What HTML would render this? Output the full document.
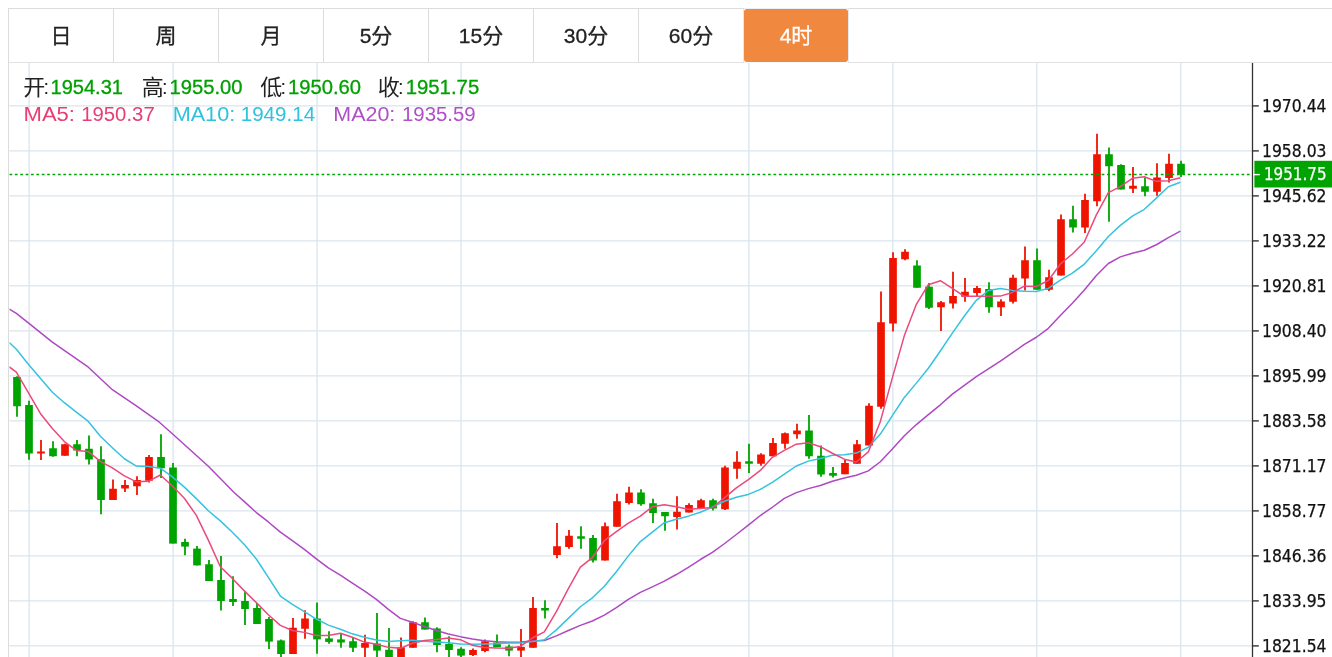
<!DOCTYPE html>
<html lang="zh-CN"><head><meta charset="utf-8"><title>K线图</title>
<style>
html,body{margin:0;padding:0;background:#fff;}
body{width:1332px;height:657px;position:relative;overflow:hidden;font-family:"Liberation Sans","Noto Sans CJK SC",sans-serif;}
#wrap{position:absolute;left:9px;top:9px;width:1400px;height:700px;box-sizing:border-box;}
#tabs{position:absolute;left:0;top:0;width:1400px;height:54px;}
.tab{position:absolute;top:0px;width:104px;height:53px;line-height:54px;text-align:center;font-size:21px;color:#222;}
.tab.on{color:#fff;}
.tab{-webkit-text-stroke:0.3px currentColor;}
</style></head><body>
<svg width="1332" height="657" viewBox="0 0 1332 657" style="position:absolute;left:0;top:0">
<line x1="9.5" y1="105.90" x2="1252" y2="105.90" stroke="#d9e5ee" stroke-width="1.3"/>
<line x1="9.5" y1="150.90" x2="1252" y2="150.90" stroke="#d9e5ee" stroke-width="1.3"/>
<line x1="9.5" y1="195.90" x2="1252" y2="195.90" stroke="#d9e5ee" stroke-width="1.3"/>
<line x1="9.5" y1="240.90" x2="1252" y2="240.90" stroke="#d9e5ee" stroke-width="1.3"/>
<line x1="9.5" y1="285.90" x2="1252" y2="285.90" stroke="#d9e5ee" stroke-width="1.3"/>
<line x1="9.5" y1="330.90" x2="1252" y2="330.90" stroke="#d9e5ee" stroke-width="1.3"/>
<line x1="9.5" y1="375.90" x2="1252" y2="375.90" stroke="#d9e5ee" stroke-width="1.3"/>
<line x1="9.5" y1="420.90" x2="1252" y2="420.90" stroke="#d9e5ee" stroke-width="1.3"/>
<line x1="9.5" y1="465.90" x2="1252" y2="465.90" stroke="#d9e5ee" stroke-width="1.3"/>
<line x1="9.5" y1="510.90" x2="1252" y2="510.90" stroke="#d9e5ee" stroke-width="1.3"/>
<line x1="9.5" y1="555.90" x2="1252" y2="555.90" stroke="#d9e5ee" stroke-width="1.3"/>
<line x1="9.5" y1="600.90" x2="1252" y2="600.90" stroke="#d9e5ee" stroke-width="1.3"/>
<line x1="9.5" y1="645.90" x2="1252" y2="645.90" stroke="#d9e5ee" stroke-width="1.3"/>
<line x1="29.20" y1="62.5" x2="29.20" y2="657" stroke="#d9e5ee" stroke-width="1.3"/>
<line x1="173.14" y1="62.5" x2="173.14" y2="657" stroke="#d9e5ee" stroke-width="1.3"/>
<line x1="317.08" y1="62.5" x2="317.08" y2="657" stroke="#d9e5ee" stroke-width="1.3"/>
<line x1="461.02" y1="62.5" x2="461.02" y2="657" stroke="#d9e5ee" stroke-width="1.3"/>
<line x1="748.90" y1="62.5" x2="748.90" y2="657" stroke="#d9e5ee" stroke-width="1.3"/>
<line x1="892.84" y1="62.5" x2="892.84" y2="657" stroke="#d9e5ee" stroke-width="1.3"/>
<line x1="1036.78" y1="62.5" x2="1036.78" y2="657" stroke="#d9e5ee" stroke-width="1.3"/>
<line x1="1180.72" y1="62.5" x2="1180.72" y2="657" stroke="#d9e5ee" stroke-width="1.3"/>
<line x1="8" y1="8.5" x2="1332" y2="8.5" stroke="#dcdcdc" stroke-width="1"/>
<line x1="8" y1="62.5" x2="1332" y2="62.5" stroke="#e2e2e2" stroke-width="1"/>
<line x1="8.5" y1="8" x2="8.5" y2="657" stroke="#dcdcdc" stroke-width="1"/>
<line x1="113.5" y1="9" x2="113.5" y2="62" stroke="#dcdcdc" stroke-width="1"/>
<line x1="218.5" y1="9" x2="218.5" y2="62" stroke="#dcdcdc" stroke-width="1"/>
<line x1="323.5" y1="9" x2="323.5" y2="62" stroke="#dcdcdc" stroke-width="1"/>
<line x1="428.5" y1="9" x2="428.5" y2="62" stroke="#dcdcdc" stroke-width="1"/>
<line x1="533.5" y1="9" x2="533.5" y2="62" stroke="#dcdcdc" stroke-width="1"/>
<line x1="638.5" y1="9" x2="638.5" y2="62" stroke="#dcdcdc" stroke-width="1"/>
<line x1="743.5" y1="9" x2="743.5" y2="62" stroke="#e3e8ee" stroke-width="1"/>
<line x1="848.5" y1="9" x2="848.5" y2="62" stroke="#e3e8ee" stroke-width="1"/>
<line x1="744" y1="62.5" x2="848" y2="62.5" stroke="#f4f8fb" stroke-width="1"/>
<line x1="744" y1="8.5" x2="849" y2="8.5" stroke="#eaeff3" stroke-width="1"/>
<rect x="744" y="9" width="104" height="53" rx="3" ry="3" fill="#f0883f"/>
<line x1="17.0" y1="376.25" x2="17.0" y2="416.75" stroke="#00a400" stroke-width="1.8"/>
<rect x="13.15" y="377.0" width="7.7" height="29.25" fill="#00a400"/>
<line x1="29.0" y1="400.75" x2="29.0" y2="459.75" stroke="#00a400" stroke-width="1.8"/>
<rect x="25.15" y="405.0" width="7.7" height="48.50" fill="#00a400"/>
<line x1="41.0" y1="440.0" x2="41.0" y2="460.0" stroke="#ee1400" stroke-width="1.8"/>
<rect x="37.15" y="451.5" width="7.7" height="2.00" fill="#ee1400"/>
<line x1="53.0" y1="441.25" x2="53.0" y2="456.75" stroke="#00a400" stroke-width="1.8"/>
<rect x="49.15" y="448.25" width="7.7" height="8.00" fill="#00a400"/>
<line x1="65.0" y1="443.75" x2="65.0" y2="455.75" stroke="#ee1400" stroke-width="1.8"/>
<rect x="61.15" y="444.25" width="7.7" height="11.50" fill="#ee1400"/>
<line x1="77.0" y1="440.0" x2="77.0" y2="456.25" stroke="#00a400" stroke-width="1.8"/>
<rect x="73.15" y="444.25" width="7.7" height="6.25" fill="#00a400"/>
<line x1="89.0" y1="435.5" x2="89.0" y2="464.5" stroke="#00a400" stroke-width="1.8"/>
<rect x="85.15" y="448.75" width="7.7" height="10.75" fill="#00a400"/>
<line x1="101.0" y1="446.25" x2="101.0" y2="514.25" stroke="#00a400" stroke-width="1.8"/>
<rect x="97.15" y="459.25" width="7.7" height="40.75" fill="#00a400"/>
<line x1="113.0" y1="479.5" x2="113.0" y2="500.0" stroke="#ee1400" stroke-width="1.8"/>
<rect x="109.15" y="488.75" width="7.7" height="11.25" fill="#ee1400"/>
<line x1="125.0" y1="480.0" x2="125.0" y2="492.0" stroke="#ee1400" stroke-width="1.8"/>
<rect x="121.15" y="485.0" width="7.7" height="3.50" fill="#ee1400"/>
<line x1="137.0" y1="476.25" x2="137.0" y2="495.0" stroke="#ee1400" stroke-width="1.8"/>
<rect x="133.15" y="480.0" width="7.7" height="6.25" fill="#ee1400"/>
<line x1="149.0" y1="455.0" x2="149.0" y2="482.5" stroke="#ee1400" stroke-width="1.8"/>
<rect x="145.15" y="457.0" width="7.7" height="23.75" fill="#ee1400"/>
<line x1="161.0" y1="434.25" x2="161.0" y2="478.0" stroke="#00a400" stroke-width="1.8"/>
<rect x="157.15" y="457.0" width="7.7" height="11.25" fill="#00a400"/>
<line x1="173.0" y1="463.0" x2="173.0" y2="543.6" stroke="#00a400" stroke-width="1.8"/>
<rect x="169.15" y="467.5" width="7.7" height="76.10" fill="#00a400"/>
<line x1="185.0" y1="538.75" x2="185.0" y2="555.25" stroke="#00a400" stroke-width="1.8"/>
<rect x="181.15" y="542.0" width="7.7" height="4.60" fill="#00a400"/>
<line x1="197.0" y1="546.0" x2="197.0" y2="565.4" stroke="#00a400" stroke-width="1.8"/>
<rect x="193.15" y="548.6" width="7.7" height="16.80" fill="#00a400"/>
<line x1="209.0" y1="560.0" x2="209.0" y2="581.0" stroke="#00a400" stroke-width="1.8"/>
<rect x="205.15" y="564.25" width="7.7" height="16.75" fill="#00a400"/>
<line x1="221.0" y1="556.0" x2="221.0" y2="610.5" stroke="#00a400" stroke-width="1.8"/>
<rect x="217.15" y="580.0" width="7.7" height="21.00" fill="#00a400"/>
<line x1="233.0" y1="576.25" x2="233.0" y2="606.0" stroke="#00a400" stroke-width="1.8"/>
<rect x="229.15" y="599.0" width="7.7" height="3.00" fill="#00a400"/>
<line x1="245.0" y1="591.0" x2="245.0" y2="625.0" stroke="#00a400" stroke-width="1.8"/>
<rect x="241.15" y="601.0" width="7.7" height="8.00" fill="#00a400"/>
<line x1="257.0" y1="603.0" x2="257.0" y2="624.0" stroke="#00a400" stroke-width="1.8"/>
<rect x="253.15" y="608.0" width="7.7" height="16.00" fill="#00a400"/>
<line x1="269.0" y1="617.0" x2="269.0" y2="649.0" stroke="#00a400" stroke-width="1.8"/>
<rect x="265.15" y="619.0" width="7.7" height="22.60" fill="#00a400"/>
<line x1="281.0" y1="639.4" x2="281.0" y2="660.0" stroke="#00a400" stroke-width="1.8"/>
<rect x="277.15" y="640.4" width="7.7" height="13.60" fill="#00a400"/>
<line x1="293.0" y1="618.0" x2="293.0" y2="654.0" stroke="#ee1400" stroke-width="1.8"/>
<rect x="289.15" y="627.75" width="7.7" height="26.25" fill="#ee1400"/>
<line x1="305.0" y1="610.25" x2="305.0" y2="638.75" stroke="#ee1400" stroke-width="1.8"/>
<rect x="301.15" y="618.5" width="7.7" height="10.25" fill="#ee1400"/>
<line x1="317.0" y1="602.5" x2="317.0" y2="653.75" stroke="#00a400" stroke-width="1.8"/>
<rect x="313.15" y="618.5" width="7.7" height="20.90" fill="#00a400"/>
<line x1="329.0" y1="631.25" x2="329.0" y2="643.75" stroke="#00a400" stroke-width="1.8"/>
<rect x="325.15" y="638.4" width="7.7" height="3.50" fill="#00a400"/>
<line x1="341.0" y1="633.75" x2="341.0" y2="647.75" stroke="#00a400" stroke-width="1.8"/>
<rect x="337.15" y="639.4" width="7.7" height="3.10" fill="#00a400"/>
<line x1="353.0" y1="638.0" x2="353.0" y2="651.9" stroke="#00a400" stroke-width="1.8"/>
<rect x="349.15" y="641.25" width="7.7" height="6.50" fill="#00a400"/>
<line x1="365.0" y1="634.75" x2="365.0" y2="660.0" stroke="#ee1400" stroke-width="1.8"/>
<rect x="361.15" y="643.0" width="7.7" height="4.75" fill="#ee1400"/>
<line x1="377.0" y1="613.0" x2="377.0" y2="660.0" stroke="#00a400" stroke-width="1.8"/>
<rect x="373.15" y="643.5" width="7.7" height="7.10" fill="#00a400"/>
<line x1="389.0" y1="628.0" x2="389.0" y2="660.0" stroke="#00a400" stroke-width="1.8"/>
<rect x="385.15" y="649.75" width="7.7" height="10.25" fill="#00a400"/>
<line x1="401.0" y1="637.5" x2="401.0" y2="660.0" stroke="#ee1400" stroke-width="1.8"/>
<rect x="397.15" y="647.25" width="7.7" height="12.75" fill="#ee1400"/>
<line x1="413.0" y1="621.25" x2="413.0" y2="647.75" stroke="#ee1400" stroke-width="1.8"/>
<rect x="409.15" y="622.25" width="7.7" height="25.50" fill="#ee1400"/>
<line x1="425.0" y1="617.5" x2="425.0" y2="629.6" stroke="#00a400" stroke-width="1.8"/>
<rect x="421.15" y="622.25" width="7.7" height="7.35" fill="#00a400"/>
<line x1="437.0" y1="627.25" x2="437.0" y2="652.25" stroke="#00a400" stroke-width="1.8"/>
<rect x="433.15" y="628.5" width="7.7" height="16.50" fill="#00a400"/>
<line x1="449.0" y1="636.25" x2="449.0" y2="660.0" stroke="#00a400" stroke-width="1.8"/>
<rect x="445.15" y="644.0" width="7.7" height="6.00" fill="#00a400"/>
<line x1="461.0" y1="647.25" x2="461.0" y2="658.0" stroke="#00a400" stroke-width="1.8"/>
<rect x="457.15" y="648.75" width="7.7" height="6.85" fill="#00a400"/>
<line x1="473.0" y1="648.5" x2="473.0" y2="656.0" stroke="#ee1400" stroke-width="1.8"/>
<rect x="469.15" y="650.0" width="7.7" height="5.00" fill="#ee1400"/>
<line x1="485.0" y1="639.4" x2="485.0" y2="652.25" stroke="#ee1400" stroke-width="1.8"/>
<rect x="481.15" y="641.25" width="7.7" height="9.75" fill="#ee1400"/>
<line x1="497.0" y1="634.4" x2="497.0" y2="647.25" stroke="#00a400" stroke-width="1.8"/>
<rect x="493.15" y="642.5" width="7.7" height="4.75" fill="#00a400"/>
<line x1="509.0" y1="644.4" x2="509.0" y2="656.25" stroke="#00a400" stroke-width="1.8"/>
<rect x="505.15" y="646.5" width="7.7" height="4.10" fill="#00a400"/>
<line x1="521.0" y1="629.0" x2="521.0" y2="660.0" stroke="#ee1400" stroke-width="1.8"/>
<rect x="517.15" y="646.9" width="7.7" height="3.70" fill="#ee1400"/>
<line x1="533.0" y1="597.0" x2="533.0" y2="647.75" stroke="#ee1400" stroke-width="1.8"/>
<rect x="529.15" y="608.0" width="7.7" height="39.75" fill="#ee1400"/>
<line x1="545.0" y1="600.25" x2="545.0" y2="618.5" stroke="#00a400" stroke-width="1.8"/>
<rect x="541.15" y="608.0" width="7.7" height="2.50" fill="#00a400"/>
<line x1="557.0" y1="523.0" x2="557.0" y2="558.25" stroke="#ee1400" stroke-width="1.8"/>
<rect x="553.15" y="546.25" width="7.7" height="8.75" fill="#ee1400"/>
<line x1="569.0" y1="530.0" x2="569.0" y2="548.75" stroke="#ee1400" stroke-width="1.8"/>
<rect x="565.15" y="535.75" width="7.7" height="11.25" fill="#ee1400"/>
<line x1="581.0" y1="526.25" x2="581.0" y2="548.75" stroke="#00a400" stroke-width="1.8"/>
<rect x="577.15" y="536.25" width="7.7" height="2.50" fill="#00a400"/>
<line x1="593.0" y1="535.0" x2="593.0" y2="562.5" stroke="#00a400" stroke-width="1.8"/>
<rect x="589.15" y="538.0" width="7.7" height="22.50" fill="#00a400"/>
<line x1="605.0" y1="522.5" x2="605.0" y2="560.5" stroke="#ee1400" stroke-width="1.8"/>
<rect x="601.15" y="526.25" width="7.7" height="34.25" fill="#ee1400"/>
<line x1="617.0" y1="493.75" x2="617.0" y2="526.75" stroke="#ee1400" stroke-width="1.8"/>
<rect x="613.15" y="501.25" width="7.7" height="25.50" fill="#ee1400"/>
<line x1="629.0" y1="486.75" x2="629.0" y2="504.5" stroke="#ee1400" stroke-width="1.8"/>
<rect x="625.15" y="492.5" width="7.7" height="10.50" fill="#ee1400"/>
<line x1="641.0" y1="489.25" x2="641.0" y2="505.75" stroke="#00a400" stroke-width="1.8"/>
<rect x="637.15" y="492.5" width="7.7" height="11.75" fill="#00a400"/>
<line x1="653.0" y1="498.75" x2="653.0" y2="523.0" stroke="#00a400" stroke-width="1.8"/>
<rect x="649.15" y="503.25" width="7.7" height="9.75" fill="#00a400"/>
<line x1="665.0" y1="512.0" x2="665.0" y2="530.75" stroke="#00a400" stroke-width="1.8"/>
<rect x="661.15" y="512.0" width="7.7" height="4.25" fill="#00a400"/>
<line x1="677.0" y1="496.25" x2="677.0" y2="529.5" stroke="#ee1400" stroke-width="1.8"/>
<rect x="673.15" y="511.75" width="7.7" height="5.25" fill="#ee1400"/>
<line x1="689.0" y1="503.25" x2="689.0" y2="512.5" stroke="#ee1400" stroke-width="1.8"/>
<rect x="685.15" y="505.0" width="7.7" height="7.50" fill="#ee1400"/>
<line x1="701.0" y1="498.75" x2="701.0" y2="508.25" stroke="#ee1400" stroke-width="1.8"/>
<rect x="697.15" y="500.25" width="7.7" height="8.00" fill="#ee1400"/>
<line x1="713.0" y1="498.75" x2="713.0" y2="510.6" stroke="#00a400" stroke-width="1.8"/>
<rect x="709.15" y="500.25" width="7.7" height="8.25" fill="#00a400"/>
<line x1="725.0" y1="465.75" x2="725.0" y2="510.0" stroke="#ee1400" stroke-width="1.8"/>
<rect x="721.15" y="467.5" width="7.7" height="41.75" fill="#ee1400"/>
<line x1="737.0" y1="451.25" x2="737.0" y2="478.75" stroke="#ee1400" stroke-width="1.8"/>
<rect x="733.15" y="461.75" width="7.7" height="7.00" fill="#ee1400"/>
<line x1="749.0" y1="443.75" x2="749.0" y2="473.0" stroke="#00a400" stroke-width="1.8"/>
<rect x="745.15" y="461.25" width="7.7" height="2.50" fill="#00a400"/>
<line x1="761.0" y1="453.25" x2="761.0" y2="465.75" stroke="#ee1400" stroke-width="1.8"/>
<rect x="757.15" y="454.5" width="7.7" height="9.25" fill="#ee1400"/>
<line x1="773.0" y1="438.0" x2="773.0" y2="456.25" stroke="#ee1400" stroke-width="1.8"/>
<rect x="769.15" y="443.0" width="7.7" height="13.25" fill="#ee1400"/>
<line x1="785.0" y1="432.5" x2="785.0" y2="448.75" stroke="#ee1400" stroke-width="1.8"/>
<rect x="781.15" y="433.25" width="7.7" height="10.50" fill="#ee1400"/>
<line x1="797.0" y1="423.75" x2="797.0" y2="438.75" stroke="#ee1400" stroke-width="1.8"/>
<rect x="793.15" y="430.5" width="7.7" height="3.75" fill="#ee1400"/>
<line x1="809.0" y1="415.0" x2="809.0" y2="458.75" stroke="#00a400" stroke-width="1.8"/>
<rect x="805.15" y="430.5" width="7.7" height="25.75" fill="#00a400"/>
<line x1="821.0" y1="445.5" x2="821.0" y2="476.75" stroke="#00a400" stroke-width="1.8"/>
<rect x="817.15" y="455.75" width="7.7" height="18.75" fill="#00a400"/>
<line x1="833.0" y1="467.0" x2="833.0" y2="477.5" stroke="#00a400" stroke-width="1.8"/>
<rect x="829.15" y="473.0" width="7.7" height="2.75" fill="#00a400"/>
<line x1="845.0" y1="460.0" x2="845.0" y2="474.25" stroke="#ee1400" stroke-width="1.8"/>
<rect x="841.15" y="463.0" width="7.7" height="11.25" fill="#ee1400"/>
<line x1="857.0" y1="440.0" x2="857.0" y2="463.75" stroke="#ee1400" stroke-width="1.8"/>
<rect x="853.15" y="444.25" width="7.7" height="19.50" fill="#ee1400"/>
<line x1="869.0" y1="403.25" x2="869.0" y2="445.5" stroke="#ee1400" stroke-width="1.8"/>
<rect x="865.15" y="405.75" width="7.7" height="39.75" fill="#ee1400"/>
<line x1="881.0" y1="291.5" x2="881.0" y2="408.75" stroke="#ee1400" stroke-width="1.8"/>
<rect x="877.15" y="322.25" width="7.7" height="84.50" fill="#ee1400"/>
<line x1="893.0" y1="252.25" x2="893.0" y2="331.5" stroke="#ee1400" stroke-width="1.8"/>
<rect x="889.15" y="258.0" width="7.7" height="65.50" fill="#ee1400"/>
<line x1="905.0" y1="249.25" x2="905.0" y2="260.25" stroke="#ee1400" stroke-width="1.8"/>
<rect x="901.15" y="251.75" width="7.7" height="7.50" fill="#ee1400"/>
<line x1="917.0" y1="260.25" x2="917.0" y2="287.75" stroke="#00a400" stroke-width="1.8"/>
<rect x="913.15" y="265.5" width="7.7" height="22.25" fill="#00a400"/>
<line x1="929.0" y1="283.0" x2="929.0" y2="309.0" stroke="#00a400" stroke-width="1.8"/>
<rect x="925.15" y="286.75" width="7.7" height="21.00" fill="#00a400"/>
<line x1="941.0" y1="301.0" x2="941.0" y2="331.0" stroke="#ee1400" stroke-width="1.8"/>
<rect x="937.15" y="302.25" width="7.7" height="5.00" fill="#ee1400"/>
<line x1="953.0" y1="271.75" x2="953.0" y2="308.5" stroke="#ee1400" stroke-width="1.8"/>
<rect x="949.15" y="296.0" width="7.7" height="7.50" fill="#ee1400"/>
<line x1="965.0" y1="278.0" x2="965.0" y2="301.75" stroke="#ee1400" stroke-width="1.8"/>
<rect x="961.15" y="291.75" width="7.7" height="5.00" fill="#ee1400"/>
<line x1="977.0" y1="286.0" x2="977.0" y2="296.0" stroke="#ee1400" stroke-width="1.8"/>
<rect x="973.15" y="288.0" width="7.7" height="5.00" fill="#ee1400"/>
<line x1="989.0" y1="282.25" x2="989.0" y2="312.75" stroke="#00a400" stroke-width="1.8"/>
<rect x="985.15" y="289.0" width="7.7" height="18.25" fill="#00a400"/>
<line x1="1001.0" y1="299.25" x2="1001.0" y2="316.0" stroke="#ee1400" stroke-width="1.8"/>
<rect x="997.15" y="301.5" width="7.7" height="5.75" fill="#ee1400"/>
<line x1="1013.0" y1="274.75" x2="1013.0" y2="303.5" stroke="#ee1400" stroke-width="1.8"/>
<rect x="1009.15" y="277.75" width="7.7" height="24.00" fill="#ee1400"/>
<line x1="1025.0" y1="246.5" x2="1025.0" y2="290.5" stroke="#ee1400" stroke-width="1.8"/>
<rect x="1021.15" y="260.25" width="7.7" height="18.25" fill="#ee1400"/>
<line x1="1037.0" y1="248.5" x2="1037.0" y2="289.75" stroke="#00a400" stroke-width="1.8"/>
<rect x="1033.15" y="260.25" width="7.7" height="29.50" fill="#00a400"/>
<line x1="1049.0" y1="269.75" x2="1049.0" y2="291.0" stroke="#ee1400" stroke-width="1.8"/>
<rect x="1045.15" y="277.25" width="7.7" height="12.50" fill="#ee1400"/>
<line x1="1061.0" y1="214.5" x2="1061.0" y2="275.5" stroke="#ee1400" stroke-width="1.8"/>
<rect x="1057.15" y="219.25" width="7.7" height="56.25" fill="#ee1400"/>
<line x1="1073.0" y1="205.75" x2="1073.0" y2="232.5" stroke="#00a400" stroke-width="1.8"/>
<rect x="1069.15" y="219.25" width="7.7" height="8.25" fill="#00a400"/>
<line x1="1085.0" y1="193.75" x2="1085.0" y2="233.0" stroke="#ee1400" stroke-width="1.8"/>
<rect x="1081.15" y="200.0" width="7.7" height="27.50" fill="#ee1400"/>
<line x1="1097.0" y1="133.75" x2="1097.0" y2="206.25" stroke="#ee1400" stroke-width="1.8"/>
<rect x="1093.15" y="154.25" width="7.7" height="47.00" fill="#ee1400"/>
<line x1="1109.0" y1="147.5" x2="1109.0" y2="221.75" stroke="#00a400" stroke-width="1.8"/>
<rect x="1105.15" y="154.25" width="7.7" height="12.00" fill="#00a400"/>
<line x1="1121.0" y1="164.25" x2="1121.0" y2="189.5" stroke="#00a400" stroke-width="1.8"/>
<rect x="1117.15" y="165.0" width="7.7" height="24.50" fill="#00a400"/>
<line x1="1133.0" y1="167.0" x2="1133.0" y2="193.0" stroke="#ee1400" stroke-width="1.8"/>
<rect x="1129.15" y="185.75" width="7.7" height="3.00" fill="#ee1400"/>
<line x1="1145.0" y1="177.5" x2="1145.0" y2="196.25" stroke="#00a400" stroke-width="1.8"/>
<rect x="1141.15" y="186.25" width="7.7" height="5.50" fill="#00a400"/>
<line x1="1157.0" y1="163.25" x2="1157.0" y2="195.75" stroke="#ee1400" stroke-width="1.8"/>
<rect x="1153.15" y="177.5" width="7.7" height="14.25" fill="#ee1400"/>
<line x1="1169.0" y1="153.75" x2="1169.0" y2="182.5" stroke="#ee1400" stroke-width="1.8"/>
<rect x="1165.15" y="163.75" width="7.7" height="14.25" fill="#ee1400"/>
<line x1="1181.0" y1="160.75" x2="1181.0" y2="177.0" stroke="#00a400" stroke-width="1.8"/>
<rect x="1177.15" y="163.75" width="7.7" height="10.75" fill="#00a400"/>
<clipPath id="cp"><rect x="9.5" y="62" width="1243" height="600"/></clipPath>
<polyline clip-path="url(#cp)" points="9,308.95 16.35,313.45 28.35,322.95 52.35,342.2 88.35,367.2 112.35,389.7 136.35,405.95 159.35,422.2 172.35,433.7 208.35,466.2 234.35,492.7 244.35,501.67 256.35,512.56 268.35,521.96 280.35,532.09 292.35,540.66 304.35,549.37 316.35,558.82 328.35,567.94 340.35,575.06 352.35,583.01 364.35,590.91 376.35,599.44 388.35,609.44 400.35,618.39 412.35,622.33 424.35,626.48 436.35,630.46 448.35,633.91 460.35,636.64 472.35,639.04 484.35,640.65 496.35,641.81 508.35,642.26 520.35,641.91 532.35,640.92 544.35,640.52 556.35,635.86 568.35,630.55 580.35,625.37 592.35,621 604.35,615.16 616.35,607.7 628.35,599.47 640.35,592.32 652.35,586.86 664.35,581.19 676.35,574.53 688.35,567.28 700.35,559.51 712.35,552.44 724.35,543.75 736.35,534.48 748.35,525.13 760.35,515.51 772.35,507.26 784.35,498.4 796.35,492.61 808.35,488.64 820.35,485.43 832.35,481.19 844.35,478.02 856.35,475.18 868.35,470.84 880.35,461.74 892.35,448.99 904.35,435.76 916.35,424.56 928.35,414.7 940.35,404.8 952.35,394.18 964.35,385.39 976.35,376.7 988.35,368.88 1000.35,361.22 1012.35,352.96 1024.35,344.31 1036.35,337.27 1048.35,328.32 1060.35,315.56 1072.35,303.15 1084.35,290 1096.35,275.5 1108.35,263.52 1120.35,256.89 1132.35,253.27 1144.35,250.27 1156.35,244.76 1168.35,237.56 1180.35,231.17" fill="none" stroke="#ae49c3" stroke-width="1.5" stroke-linejoin="round"/>
<polyline clip-path="url(#cp)" points="9,342.2 16.35,349.2 28.35,364.2 40.35,378.2 52.35,392.2 64.35,402.7 76.35,412.2 88.35,421.45 100.35,436.2 112.35,447.7 124.35,458.75 136.35,466.12 148.35,466.47 160.35,468.15 172.35,476.89 184.35,487.12 196.35,498.61 208.35,510.76 220.35,520.86 232.35,532.19 244.35,544.59 256.35,558.99 268.35,577.45 280.35,596.02 292.35,604.44 304.35,611.62 316.35,619.03 328.35,625.12 340.35,629.26 352.35,633.84 364.35,637.24 376.35,639.9 388.35,641.44 400.35,640.76 412.35,640.22 424.35,641.33 436.35,641.89 448.35,642.7 460.35,644.01 472.35,644.23 484.35,644.06 496.35,643.72 508.35,643.08 520.35,643.05 532.35,641.62 544.35,639.71 556.35,629.84 568.35,618.41 580.35,606.73 592.35,597.78 604.35,586.28 616.35,571.68 628.35,555.87 640.35,541.6 652.35,532.1 664.35,522.68 676.35,519.23 688.35,516.15 700.35,512.3 712.35,507.1 724.35,501.22 736.35,497.27 748.35,494.4 760.35,489.43 772.35,482.43 784.35,474.12 796.35,466 808.35,461.12 820.35,458.55 832.35,455.27 844.35,454.82 856.35,453.07 868.35,447.27 880.35,434.05 892.35,415.55 904.35,397.4 916.35,383.12 928.35,368.27 940.35,351.05 952.35,333.07 964.35,315.95 976.35,300.32 988.35,290.47 1000.35,288.4 1012.35,290.38 1024.35,291.22 1036.35,291.43 1048.35,288.38 1060.35,280.07 1072.35,273.22 1084.35,264.05 1096.35,250.67 1108.35,236.57 1120.35,225.38 1132.35,216.17 1144.35,209.32 1156.35,198.1 1168.35,186.75 1180.35,182.27" fill="none" stroke="#35c3de" stroke-width="1.5" stroke-linejoin="round"/>
<polyline clip-path="url(#cp)" points="9,366.7 16.35,372.2 28.35,392.7 40.35,413.45 52.35,428.45 64.35,441.55 76.35,450.4 88.35,451.6 100.35,461.3 112.35,467.8 124.35,475.95 136.35,481.85 148.35,481.35 160.35,475 172.35,485.97 184.35,498.29 196.35,515.37 208.35,540.17 220.35,566.72 232.35,578.4 244.35,590.88 256.35,602.6 268.35,614.72 280.35,625.32 292.35,630.47 304.35,632.37 316.35,635.45 328.35,635.51 340.35,633.21 352.35,637.21 364.35,642.11 376.35,644.35 388.35,647.37 400.35,648.32 412.35,643.22 424.35,640.54 436.35,639.42 448.35,638.02 460.35,639.69 472.35,645.24 484.35,647.57 496.35,648.02 508.35,648.14 520.35,646.4 532.35,638 544.35,631.85 556.35,611.65 568.35,588.68 580.35,567.05 592.35,557.55 604.35,540.7 616.35,531.7 628.35,523.05 640.35,516.15 652.35,506.65 664.35,504.65 676.35,506.75 688.35,509.25 700.35,508.45 712.35,507.55 724.35,497.8 736.35,487.8 748.35,479.55 760.35,470.4 772.35,457.3 784.35,450.45 796.35,444.2 808.35,442.7 820.35,446.7 832.35,453.25 844.35,459.2 856.35,461.95 868.35,451.85 880.35,421.4 892.35,377.85 904.35,335.6 916.35,304.3 928.35,284.7 940.35,280.7 952.35,288.3 964.35,296.3 976.35,296.35 988.35,296.25 1000.35,296.1 1012.35,292.45 1024.35,286.15 1036.35,286.5 1048.35,280.5 1060.35,264.05 1072.35,254 1084.35,241.95 1096.35,214.85 1108.35,192.65 1120.35,186.7 1132.35,178.35 1144.35,176.7 1156.35,181.35 1168.35,180.85 1180.35,177.85" fill="none" stroke="#ea4a7c" stroke-width="1.5" stroke-linejoin="round"/>
<line x1="9.5" y1="174.45" x2="1253" y2="174.45" stroke="#00a400" stroke-width="1.6" stroke-dasharray="2.7 2.68"/>
<line x1="1252.5" y1="63" x2="1252.5" y2="657" stroke="#333" stroke-width="1.3"/>
<line x1="1252" y1="105.90" x2="1258.8" y2="105.90" stroke="#333" stroke-width="1.4"/>
<text x="1262" y="111.90" font-family="'DejaVu Sans Condensed','Liberation Sans',sans-serif" font-size="17.3" fill="#111" stroke="#111" stroke-width="0.25" textLength="64.5" lengthAdjust="spacingAndGlyphs">1970.44</text>
<line x1="1252" y1="150.90" x2="1258.8" y2="150.90" stroke="#333" stroke-width="1.4"/>
<text x="1262" y="156.90" font-family="'DejaVu Sans Condensed','Liberation Sans',sans-serif" font-size="17.3" fill="#111" stroke="#111" stroke-width="0.25" textLength="64.5" lengthAdjust="spacingAndGlyphs">1958.03</text>
<line x1="1252" y1="195.90" x2="1258.8" y2="195.90" stroke="#333" stroke-width="1.4"/>
<text x="1262" y="201.90" font-family="'DejaVu Sans Condensed','Liberation Sans',sans-serif" font-size="17.3" fill="#111" stroke="#111" stroke-width="0.25" textLength="64.5" lengthAdjust="spacingAndGlyphs">1945.62</text>
<line x1="1252" y1="240.90" x2="1258.8" y2="240.90" stroke="#333" stroke-width="1.4"/>
<text x="1262" y="246.90" font-family="'DejaVu Sans Condensed','Liberation Sans',sans-serif" font-size="17.3" fill="#111" stroke="#111" stroke-width="0.25" textLength="64.5" lengthAdjust="spacingAndGlyphs">1933.22</text>
<line x1="1252" y1="285.90" x2="1258.8" y2="285.90" stroke="#333" stroke-width="1.4"/>
<text x="1262" y="291.90" font-family="'DejaVu Sans Condensed','Liberation Sans',sans-serif" font-size="17.3" fill="#111" stroke="#111" stroke-width="0.25" textLength="64.5" lengthAdjust="spacingAndGlyphs">1920.81</text>
<line x1="1252" y1="330.90" x2="1258.8" y2="330.90" stroke="#333" stroke-width="1.4"/>
<text x="1262" y="336.90" font-family="'DejaVu Sans Condensed','Liberation Sans',sans-serif" font-size="17.3" fill="#111" stroke="#111" stroke-width="0.25" textLength="64.5" lengthAdjust="spacingAndGlyphs">1908.40</text>
<line x1="1252" y1="375.90" x2="1258.8" y2="375.90" stroke="#333" stroke-width="1.4"/>
<text x="1262" y="381.90" font-family="'DejaVu Sans Condensed','Liberation Sans',sans-serif" font-size="17.3" fill="#111" stroke="#111" stroke-width="0.25" textLength="64.5" lengthAdjust="spacingAndGlyphs">1895.99</text>
<line x1="1252" y1="420.90" x2="1258.8" y2="420.90" stroke="#333" stroke-width="1.4"/>
<text x="1262" y="426.90" font-family="'DejaVu Sans Condensed','Liberation Sans',sans-serif" font-size="17.3" fill="#111" stroke="#111" stroke-width="0.25" textLength="64.5" lengthAdjust="spacingAndGlyphs">1883.58</text>
<line x1="1252" y1="465.90" x2="1258.8" y2="465.90" stroke="#333" stroke-width="1.4"/>
<text x="1262" y="471.90" font-family="'DejaVu Sans Condensed','Liberation Sans',sans-serif" font-size="17.3" fill="#111" stroke="#111" stroke-width="0.25" textLength="64.5" lengthAdjust="spacingAndGlyphs">1871.17</text>
<line x1="1252" y1="510.90" x2="1258.8" y2="510.90" stroke="#333" stroke-width="1.4"/>
<text x="1262" y="516.90" font-family="'DejaVu Sans Condensed','Liberation Sans',sans-serif" font-size="17.3" fill="#111" stroke="#111" stroke-width="0.25" textLength="64.5" lengthAdjust="spacingAndGlyphs">1858.77</text>
<line x1="1252" y1="555.90" x2="1258.8" y2="555.90" stroke="#333" stroke-width="1.4"/>
<text x="1262" y="561.90" font-family="'DejaVu Sans Condensed','Liberation Sans',sans-serif" font-size="17.3" fill="#111" stroke="#111" stroke-width="0.25" textLength="64.5" lengthAdjust="spacingAndGlyphs">1846.36</text>
<line x1="1252" y1="600.90" x2="1258.8" y2="600.90" stroke="#333" stroke-width="1.4"/>
<text x="1262" y="606.90" font-family="'DejaVu Sans Condensed','Liberation Sans',sans-serif" font-size="17.3" fill="#111" stroke="#111" stroke-width="0.25" textLength="64.5" lengthAdjust="spacingAndGlyphs">1833.95</text>
<line x1="1252" y1="645.90" x2="1258.8" y2="645.90" stroke="#333" stroke-width="1.4"/>
<text x="1262" y="651.90" font-family="'DejaVu Sans Condensed','Liberation Sans',sans-serif" font-size="17.3" fill="#111" stroke="#111" stroke-width="0.25" textLength="64.5" lengthAdjust="spacingAndGlyphs">1821.54</text>
<rect x="1254.4" y="160.8" width="80" height="26.7" fill="#00a400"/>
<line x1="1253" y1="174.6" x2="1259.8" y2="174.6" stroke="#fff" stroke-width="1.4"/>
<text x="1264" y="180.2" font-family="'DejaVu Sans Condensed','Liberation Sans',sans-serif" font-size="17.3" fill="#fff" stroke="#fff" stroke-width="0.25" textLength="62.5" lengthAdjust="spacingAndGlyphs">1951.75</text>
<text x="23.2" y="94.6" font-family="'Liberation Sans','Noto Sans CJK SC',sans-serif" font-size="20" fill="#222"><tspan font-size="22">开</tspan><tspan x="43.6" y="94">:</tspan></text>
<text x="50.5" y="94" font-family="'Liberation Sans','Noto Sans CJK SC',sans-serif" font-size="20" fill="#00a000" stroke="#00a000" stroke-width="0.3" textLength="72.5" lengthAdjust="spacingAndGlyphs">1954.31</text>
<text x="141.7" y="94.6" font-family="'Liberation Sans','Noto Sans CJK SC',sans-serif" font-size="20" fill="#222"><tspan font-size="22">高</tspan><tspan x="162.1" y="94">:</tspan></text>
<text x="169.5" y="94" font-family="'Liberation Sans','Noto Sans CJK SC',sans-serif" font-size="20" fill="#00a000" stroke="#00a000" stroke-width="0.3" textLength="73" lengthAdjust="spacingAndGlyphs">1955.00</text>
<text x="260.2" y="94.6" font-family="'Liberation Sans','Noto Sans CJK SC',sans-serif" font-size="20" fill="#222"><tspan font-size="22">低</tspan><tspan x="280.6" y="94">:</tspan></text>
<text x="288" y="94" font-family="'Liberation Sans','Noto Sans CJK SC',sans-serif" font-size="20" fill="#00a000" stroke="#00a000" stroke-width="0.3" textLength="73" lengthAdjust="spacingAndGlyphs">1950.60</text>
<text x="377.7" y="94.6" font-family="'Liberation Sans','Noto Sans CJK SC',sans-serif" font-size="20" fill="#222"><tspan font-size="22">收</tspan><tspan x="398.1" y="94">:</tspan></text>
<text x="405.7" y="94" font-family="'Liberation Sans','Noto Sans CJK SC',sans-serif" font-size="20" fill="#00a000" stroke="#00a000" stroke-width="0.3" textLength="73.5" lengthAdjust="spacingAndGlyphs">1951.75</text>
<text x="23.5" y="121.2" font-family="'Liberation Sans','Noto Sans CJK SC',sans-serif" font-size="20" fill="#e83e74" textLength="51.5" lengthAdjust="spacingAndGlyphs">MA5:</text>
<text x="81.2" y="121.2" font-family="'Liberation Sans','Noto Sans CJK SC',sans-serif" font-size="20" fill="#e83e74" textLength="73.5" lengthAdjust="spacingAndGlyphs">1950.37</text>
<text x="172.7" y="121.2" font-family="'Liberation Sans','Noto Sans CJK SC',sans-serif" font-size="20" fill="#2fc1de" textLength="62.5" lengthAdjust="spacingAndGlyphs">MA10:</text>
<text x="240.7" y="121.2" font-family="'Liberation Sans','Noto Sans CJK SC',sans-serif" font-size="20" fill="#2fc1de" textLength="74.5" lengthAdjust="spacingAndGlyphs">1949.14</text>
<text x="333.3" y="121.2" font-family="'Liberation Sans','Noto Sans CJK SC',sans-serif" font-size="20" fill="#b04fc6" textLength="62" lengthAdjust="spacingAndGlyphs">MA20:</text>
<text x="402" y="121.2" font-family="'Liberation Sans','Noto Sans CJK SC',sans-serif" font-size="20" fill="#b04fc6" textLength="73.7" lengthAdjust="spacingAndGlyphs">1935.59</text>
</svg>
<div id="wrap"><div id="tabs"><div class="tab" style="left:0px">日</div><div class="tab" style="left:105px">周</div><div class="tab" style="left:210px">月</div><div class="tab" style="left:315px">5分</div><div class="tab" style="left:420px">15分</div><div class="tab" style="left:525px">30分</div><div class="tab" style="left:630px">60分</div><div class="tab on" style="left:735px">4时</div></div></div>
</body></html>
